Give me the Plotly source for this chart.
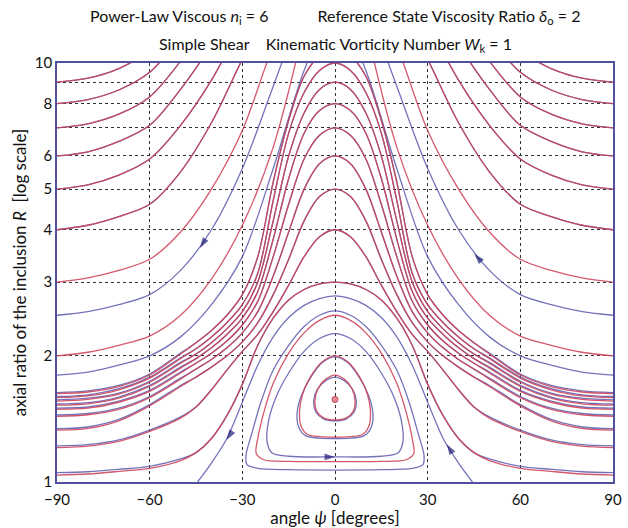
import plotly.graph_objects as go

# ---------------------------------------------------------------
# Trajectories of a power-law viscous inclusion in simple shear
# psi = long-axis angle [deg], R = axial ratio (log scale)
# ---------------------------------------------------------------

RED = "rgba(205,65,88,0.88)"
BLUE = "rgba(90,90,175,0.85)"
ARROW = "#1e1e78"
FRAME = "#50509e"

# Open curves that start at the psi = -90 edge and leave through the top
psi_edge = [-90, -80, -70, -60, -50, -40, -30, -20, -10, 0]
edge_red = {
    "E9": [9, 9.2, 9.7, 10.7, 12.5],
    "E8": [8, 8.18, 8.62, 9.5, 11.5, 14],
    "E7": [7, 7.16, 7.55, 8.3, 10.1, 13],
    "E6": [6, 6.14, 6.5, 7.1, 8.65, 11, 14],
    "E5": [5, 5.12, 5.4, 5.9, 7.1, 9.1, 12.5],
    "E4": [4, 4.1, 4.3, 4.6, 5.5, 7.2, 10.2, 14],
    "E3": [3, 3.07, 3.2, 3.4, 3.95, 5.0, 6.9, 11.0, 16],
    "E2": [2, 2.04, 2.12, 2.23, 2.5, 3.05, 4.1, 6.3, 12.2],
}
edge_blue = {
    "E9": [9, 9.2, 9.7, 10.7, 12.5],
    "E8": [8, 8.18, 8.62, 9.5, 11.5, 14],
    "E7": [7, 7.16, 7.55, 8.3, 10.1, 13],
    "E6": [6, 6.14, 6.5, 7.1, 8.65, 11, 14],
    "E5": [5, 5.12, 5.4, 5.9, 7.1, 9.1, 12.5],
    "E4": [4, 4.1, 4.3, 4.6, 5.5, 7.2, 10.2, 14],
    "E2.5": [2.5, 2.55, 2.65, 2.8, 3.2, 4.0, 5.6, 8.8, 14],
    "E1.8": [1.8, 1.83, 1.9, 2.0, 2.22, 2.65, 3.45, 5.6, 9.6, 14],
}

# Open curves with a maximum at psi = 0 (left half, psi from 0 to -90)
psi_hump = [0, -5, -10, -15, -20, -25, -30, -35, -40, -45, -50, -60, -70, -80, -90]
hump_head = {
    10.8: [10.8, 10.4, 9.3, 7.3, 5.2, 3.45, 2.8, 2.5, 2.3, 2.15],
    10: [10, 9.6, 8.5, 6.8, 4.7, 3.15, 2.65, 2.4, 2.22, 2.08],
    9: [9, 8.65, 7.6, 6.0, 4.2, 3.0, 2.55, 2.32, 2.15, 2.02],
    8: [8, 7.7, 6.8, 5.3, 3.8, 2.85, 2.46, 2.25, 2.09, 1.97],
    7: [7, 6.72, 5.9, 4.6, 3.45, 2.7, 2.37, 2.17, 2.03, 1.92],
    6: [6, 5.75, 5.0, 3.95, 3.1, 2.55, 2.27, 2.09, 1.96, 1.86],
    5: [5, 4.8, 4.2, 3.4, 2.8, 2.4, 2.16, 2.0, 1.88, 1.78],
    4: [4, 3.85, 3.45, 2.95, 2.55, 2.25, 2.05, 1.85, 1.66, 1.51],
    3: [3, 2.97, 2.88, 2.72, 2.46, 2.12, 1.71, 1.44, 1.27, 1.175],
}
hump_tail_red = {
    10.8: [2.02, 1.8, 1.69, 1.64, 1.625],
    10: [1.97, 1.77, 1.66, 1.605, 1.59],
    9: [1.92, 1.73, 1.62, 1.575, 1.56],
    8: [1.87, 1.69, 1.585, 1.537, 1.525],
    7: [1.82, 1.645, 1.55, 1.50, 1.49],
    6: [1.76, 1.59, 1.49, 1.447, 1.435],
    5: [1.69, 1.52, 1.40, 1.343, 1.33],
    4: [1.42, 1.32, 1.25, 1.218, 1.208],
    3: [1.125, 1.078, 1.06, 1.045, 1.039],
}
hump_tail_blue = {
    10.8: [2.03, 1.81, 1.70, 1.65, 1.635],
    10: [1.98, 1.78, 1.67, 1.615, 1.60],
    9: [1.93, 1.74, 1.63, 1.585, 1.57],
    8: [1.88, 1.70, 1.595, 1.547, 1.535],
    7: [1.83, 1.655, 1.56, 1.51, 1.50],
    6: [1.77, 1.60, 1.50, 1.457, 1.445],
    5: [1.70, 1.53, 1.41, 1.353, 1.34],
    4: [1.43, 1.33, 1.26, 1.228, 1.219],
    3: [1.135, 1.09, 1.072, 1.058, 1.053],
}

# Separatrix from the circular state (R = 1) at psi = -45 up to psi = 0
sep_psi = [0, -5, -10, -15, -20, -25, -30, -35, -40, -44.5]
sep_R = [2.78, 2.74, 2.64, 2.47, 2.22, 1.9, 1.55, 1.27, 1.11, 1.0]

# Closed orbits around the centre (left half, from the top down to the bottom)
loops = [
    ("blue", [0, -5, -10, -15, -20, -24, -27, -28.8, -28.5, -25, -15, 0],
     [2.56, 2.5, 2.35, 2.12, 1.85, 1.55, 1.3, 1.16, 1.1, 1.078, 1.07, 1.068]),
    ("red", [0, -5, -10, -15, -20, -23, -25, -25.5, -23, -15, 0],
     [2.5, 2.43, 2.27, 2.03, 1.72, 1.47, 1.27, 1.17, 1.13, 1.12, 1.119]),
    ("blue", [0, -5, -10, -15, -19, -21.5, -22, -20.5, -15, 0],
     [2.26, 2.2, 2.05, 1.82, 1.6, 1.4, 1.25, 1.175, 1.152, 1.148]),
    ("blue", [0, -4, -8, -11, -12.3, -11.7, -9.5, -5, 0],
     [1.99, 1.93, 1.77, 1.6, 1.45, 1.35, 1.29, 1.272, 1.27]),
    ("red", [0, -4, -8, -10.5, -11.5, -11, -9, -5, 0],
     [2.0, 1.94, 1.78, 1.62, 1.47, 1.36, 1.3, 1.283, 1.28]),
    ("blue", [0, -3, -5.8, -6.9, -6.1, -3.7, 0],
     [1.78, 1.745, 1.66, 1.56, 1.465, 1.415, 1.40]),
    ("red", [0, -3, -5.5, -6.5, -5.8, -3.5, 0],
     [1.8, 1.76, 1.67, 1.56, 1.47, 1.42, 1.406]),
]
centre_psi, centre_R = [0], [1.574]

# Flow-direction arrows: (previous point) -> (arrow tip)
arrow_from_psi = [-40, 50, -33, 40, -5]
arrow_from_R = [4.0, 3.2, 1.33, 1.11, 1.148]
arrow_at_psi = [-43.7, 45.1, -35.1, 36.2, 0]
arrow_at_R = [3.62, 3.5, 1.26, 1.23, 1.148]

fig = go.Figure()


def add_line(x, y, color):
    fig.add_trace(go.Scatter(
        x=x, y=y, mode="lines",
        line=dict(color=color, width=1.3, shape="spline", smoothing=0.9),
        hoverinfo="skip", showlegend=False))


def mirror_open(px, ry):
    # left half given from 0 to -90 -> full curve from -90 to +90
    left_x = list(reversed(px))
    left_y = list(reversed(ry))
    return left_x + [-p for p in px[1:]], left_y + ry[1:]


def mirror_loop(px, ry):
    # left half from top to bottom -> closed loop
    right_x = [-p for p in reversed(px[:-1])]
    right_y = list(reversed(ry[:-1]))
    return px + right_x, ry + right_y


# edge curves, left side and mirrored right side
for vals in edge_blue.values():
    xs = psi_edge[:len(vals)]
    add_line(xs, vals, BLUE)
    add_line([-p for p in xs], vals, BLUE)
for vals in edge_red.values():
    xs = psi_edge[:len(vals)]
    add_line(xs, vals, RED)
    add_line([-p for p in xs], vals, RED)

# humps
for key, head in hump_head.items():
    x, y = mirror_open(psi_hump, head + hump_tail_blue[key])
    add_line(x, y, BLUE)
for key, head in hump_head.items():
    x, y = mirror_open(psi_hump, head + hump_tail_red[key])
    add_line(x, y, RED)

# separatrix
sx = list(reversed(sep_psi)) + [-p for p in sep_psi[1:]]
sy = list(reversed(sep_R)) + sep_R[1:]
add_line(sx, sy, BLUE)

# closed orbits
for col, px, ry in loops:
    x, y = mirror_loop(px, ry)
    add_line(x, y, BLUE if col == "blue" else RED)

# centre point
fig.add_trace(go.Scatter(
    x=centre_psi, y=centre_R, mode="markers",
    marker=dict(size=6, color="rgba(230,140,150,1)", line=dict(color="#c03c50", width=1)),
    hoverinfo="skip", showlegend=False))

# arrows
for i in range(len(arrow_at_psi)):
    fig.add_trace(go.Scatter(
        x=[arrow_from_psi[i], arrow_at_psi[i]], y=[arrow_from_R[i], arrow_at_R[i]],
        mode="markers",
        marker=dict(symbol="arrow", size=[0.1, 11], color=ARROW, angleref="previous",
                    line=dict(width=0)),
        hoverinfo="skip", showlegend=False))

font_family = "Lato, 'Open Sans', sans-serif"
nb = "\u00a0"

fig.update_layout(
    width=628, height=528,
    margin=dict(l=57, r=15, t=63, b=46),
    paper_bgcolor="white", plot_bgcolor="white",
    font=dict(family=font_family, size=15, color="#111"),
    xaxis=dict(
        range=[-90, 90], tickvals=[-90, -60, -30, 0, 30, 60, 90],
        showgrid=True, gridcolor="#333", griddash="dot", gridwidth=1,
        zeroline=False, showline=True, linecolor=FRAME, linewidth=1.5, mirror=True,
        ticks="", tickfont=dict(size=15), ticklabelstandoff=3, automargin=False,
        title=dict(text="angle <i>ψ</i> [degrees]", font=dict(size=17), standoff=2),
    ),
    yaxis=dict(
        type="log", range=[0, 1],
        tickvals=[1, 2, 3, 4, 5, 6, 7, 8, 9, 10],
        ticktext=["1", "2", "3", "4", "5", "6", "", "8", "", "10"],
        showgrid=True, gridcolor="#333", griddash="dot", gridwidth=1,
        zeroline=False, showline=True, linecolor=FRAME, linewidth=1.5, mirror=True,
        ticks="", tickfont=dict(size=15), automargin=False,
        title=dict(text="axial ratio of the inclusion <i>R</i>" + nb * 2 + "[log scale]",
                   font=dict(size=17), standoff=4),
    ),
    annotations=[
        dict(text="Power-Law Viscous <i>n</i><sub>i</sub> = 6" + nb * 12
                  + "Reference State Viscosity Ratio <i>δ</i><sub>o</sub> = 2",
             xref="paper", yref="paper", x=0.5, y=1.11, showarrow=False,
             xanchor="center", yanchor="middle", font=dict(size=16)),
        dict(text="Simple Shear" + nb * 4 + "Kinematic Vorticity Number <i>W</i><sub>k</sub> = 1",
             xref="paper", yref="paper", x=0.5, y=1.045, showarrow=False,
             xanchor="center", yanchor="middle", font=dict(size=16)),
    ],
)

fig.write_html("out.html")
